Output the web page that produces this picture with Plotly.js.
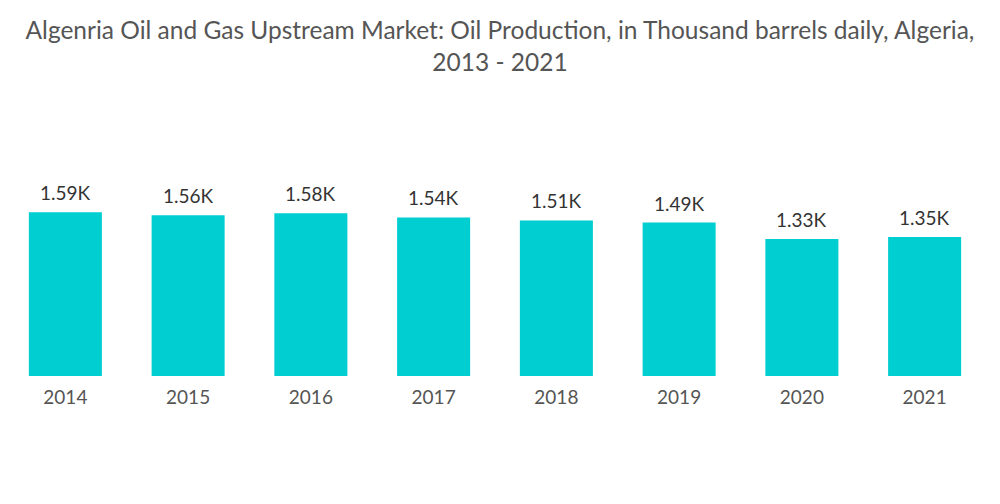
<!DOCTYPE html>
<html>
<head>
<meta charset="utf-8">
<script src="https://cdn.plot.ly/plotly-3.0.1.min.js"></script>
<style>html,body{margin:0;padding:0;background:#fff;}#chart{width:1000px;height:504px;}</style>
</head>
<body>
<div id="chart"></div>
<script>
const years = ["2014", "2015", "2016", "2017", "2018", "2019", "2020", "2021"];
const production = [1590, 1560, 1580, 1540, 1510, 1490, 1330, 1350];
const labels = ["1.59K", "1.56K", "1.58K", "1.54K", "1.51K", "1.49K", "1.33K", "1.35K"];

const trace = {
  type: "bar",
  x: years,
  y: production,
  marker: {color: "#00CED1"},
  hoverinfo: "x+y"
};

const annotations = years.map((yr, i) => ({
  x: i, y: production[i], xref: "x", yref: "y",
  text: labels[i], showarrow: false,
  yanchor: "bottom", xanchor: "center", yshift: 6,
  font: {family: "Lato, sans-serif", size: 19, color: "#333333"}
}));

const layout = {
  width: 1000,
  height: 504,
  margin: {l: 4, r: 14, t: 100, b: 128},
  paper_bgcolor: "#ffffff",
  plot_bgcolor: "#ffffff",
  bargap: 0.405,
  title: {
    text: "Algenria Oil and Gas Upstream Market: Oil Production, in Thousand barrels daily, Algeria,<br>2013 - 2021",
    font: {family: "Lato, sans-serif", size: 24.5, color: "#555555"},
    x: 0.5, xanchor: "center", y: 0.922, yanchor: "top"
  },
  annotations: annotations,
  xaxis: {
    type: "category",
    range: [-0.5, years.length - 0.5],
    showgrid: false, zeroline: false, showline: false,
    ticks: "",
    ticklabelstandoff: 8,
    tickfont: {family: "Lato, sans-serif", size: 19, color: "#555555"}
  },
  yaxis: {
    range: [0, 2680],
    visible: false,
    showgrid: false, zeroline: false
  },
  showlegend: false
};

Plotly.newPlot("chart", [trace], layout, {displayModeBar: false, staticPlot: true});
</script>
</body>
</html>
